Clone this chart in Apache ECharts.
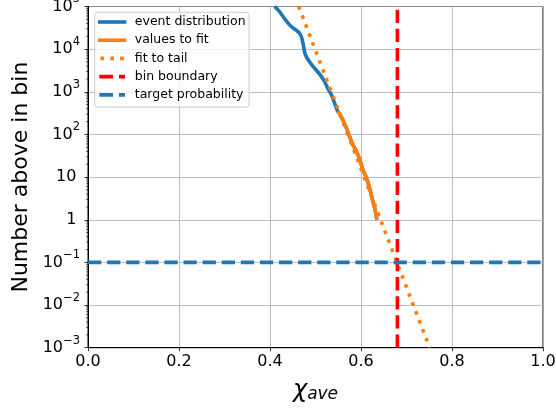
<!DOCTYPE html>
<html>
<head>
<meta charset="utf-8">
<script src="https://cdn.jsdelivr.net/npm/echarts@6/dist/echarts.min.js"></script>
<style>
  html, body { margin: 0; padding: 0; background: #fff; }
  #chart { width: 556px; height: 409px; }
</style>
</head>
<body>
<div id="chart"></div>
<script>
// Number of events above each chi_ave threshold
const eventX = [0.410, 0.421, 0.432, 0.443, 0.451, 0.458, 0.464, 0.469, 0.473, 0.476, 0.480,
                0.486, 0.495, 0.509, 0.520, 0.527, 0.535, 0.542, 0.549, 0.552, 0.560, 0.568,
                0.575, 0.582, 0.590, 0.597, 0.604, 0.612, 0.619, 0.625, 0.630, 0.635];
const eventY = [1.0e5, 7.6e4, 5.2e4, 3.7e4, 3.1e4, 2.75e4, 2.45e4, 1.95e4, 1.3e4, 8.6e3, 6.6e3,
                5.2e3, 3.9e3, 2.6e3, 1.74e3, 1.2e3, 850, 540, 347, 316, 219, 141,
                89, 58, 40, 26, 15, 9.5, 5.5, 3.0, 1.9, 1.0];
// first point of the tail used for the fit
const fitStart = 18;
// exponential fit to the tail: straight in log space
const tailX = [0.463, 0.751];
const tailY = [1e5, 1e-3];
const binBoundary = 0.68;
const targetProbability = 0.1;
const xRange = [0, 1];
const yRange = [1e-3, 1e5];
const legendNames = ['event distribution', 'values to fit', 'fit to tail', 'bin boundary', 'target probability'];

const FONT = 'DejaVu Sans';
const BLUE = '#1f77b4', ORANGE = '#ff7f0e', RED = '#ff0000';
const LW = 3.6;
const DASH = [13.3, 5.8];
const DOT = [3.6, 6.0];

// minor ticks at 2..9 x 10^k, as on a matplotlib log axis
const minorTickValues = [];
for (let e = Math.log10(yRange[0]); e < Math.log10(yRange[1]); e++) {
  for (let m = 2; m <= 9; m++) minorTickValues.push(m * Math.pow(10, e));
}

const chart = echarts.init(document.getElementById('chart'), null, { renderer: 'canvas' });

const pairs = (xs, ys) => xs.map((x, i) => [x, ys[i]]);

chart.setOption({
  animation: false,
  textStyle: { fontFamily: FONT },
  grid: {
    left: 88, right: 13, top: 6.5, bottom: 61.3,
    outerBoundsMode: 'none', containLabel: false,
    show: true, borderColor: '#000', borderWidth: 1, backgroundColor: 'transparent'
  },
  legend: {
    orient: 'vertical', left: 94.7, top: 12.3,
    itemWidth: 28.3, itemHeight: 3.7, itemGap: 4.2,
    padding: [2.7, 3.5, 5.3, 3.3],
    backgroundColor: 'rgba(255,255,255,0.8)', borderColor: '#cccccc', borderWidth: 1, borderRadius: 3,
    itemStyle: { borderWidth: 0 },
    lineStyle: { width: 0 },
    textStyle: { fontFamily: FONT, fontSize: 12.5, color: '#000', lineHeight: 14, padding: [0, 0, 0, 3.5] },
    data: [
      { name: legendNames[0], icon: 'path://M0,0H28.3V3.6H0Z' },
      { name: legendNames[1], icon: 'path://M0,0H28.3V3.6H0Z' },
      { name: legendNames[2], icon: 'path://M0,0H3.6V3.6H0Z M9.6,0H13.2V3.6H9.6Z M19.2,0H22.8V3.6H19.2Z' },
      { name: legendNames[3], icon: 'path://M0,0H13.3V3.6H0Z M19.1,0H25V3.6H19.1Z' },
      { name: legendNames[4], icon: 'path://M0,0H13.3V3.6H0Z M19.1,0H25V3.6H19.1Z' }
    ]
  },
  xAxis: {
    type: 'value', min: xRange[0], max: xRange[1], interval: 0.2,
    axisLine: { show: true, onZero: false, lineStyle: { color: '#000', width: 1 } },
    axisTick: { show: true, length: 3.5, lineStyle: { color: '#000', width: 0.8 } },
    axisLabel: { fontFamily: FONT, fontSize: 16, color: '#000', margin: 6, formatter: v => v.toFixed(1) },
    splitLine: { show: true, lineStyle: { color: '#b0b0b0', width: 0.8 } },
    name: '{c|\u03c7}{sub|ave}', nameLocation: 'middle', nameGap: 31,
    nameTextStyle: {
      rich: {
        c: { fontFamily: FONT, fontSize: 24, fontStyle: 'italic', color: '#000', verticalAlign: 'bottom' },
        sub: { fontFamily: FONT, fontSize: 17, fontStyle: 'italic', color: '#000', verticalAlign: 'bottom' }
      }
    }
  },
  yAxis: {
    type: 'log', logBase: 10, min: yRange[0], max: yRange[1], interval: 1,
    axisLine: { show: true, onZero: false, lineStyle: { color: '#000', width: 1 } },
    axisTick: { show: true, length: 3.5, lineStyle: { color: '#000', width: 0.8 } },
    axisLabel: {
      fontFamily: FONT, color: '#000', margin: 8,
      formatter: v => {
        const e = Math.round(Math.log10(v));
        if (e === 0) return '{b|1}{s| }';
        if (e === 1) return '{b|10}{s| }';
        return '{b|10}{s|' + (e < 0 ? '\u2212' + (-e) : e) + '}';
      },
      rich: {
        b: { fontFamily: FONT, fontSize: 16, color: '#000', lineHeight: 26, verticalAlign: 'middle' },
        s: { fontFamily: FONT, fontSize: 11.5, color: '#000', lineHeight: 26, verticalAlign: 'top' }
      }
    },
    splitLine: { show: true, lineStyle: { color: '#b0b0b0', width: 0.8 } },
    name: 'Number above in bin', nameLocation: 'middle', nameRotate: 90, nameGap: 50,
    nameTextStyle: { fontFamily: FONT, fontSize: 22, color: '#000' }
  },
  series: [
    {
      name: legendNames[0], type: 'line', data: pairs(eventX, eventY),
      showSymbol: false, symbol: 'none', color: BLUE, smooth: 0.2,
      lineStyle: { color: BLUE, width: LW }
    },
    {
      name: legendNames[1], type: 'line', data: pairs(eventX.slice(fitStart), eventY.slice(fitStart)),
      showSymbol: false, symbol: 'none', color: ORANGE, smooth: 0.2,
      lineStyle: { color: ORANGE, width: LW }
    },
    {
      name: legendNames[2], type: 'line', data: pairs(tailX, tailY),
      showSymbol: false, symbol: 'none', color: ORANGE,
      lineStyle: { color: ORANGE, width: LW, type: DOT, cap: 'butt' }
    },
    {
      name: legendNames[3], type: 'line', data: [[binBoundary, yRange[0]], [binBoundary, yRange[1]]],
      showSymbol: false, symbol: 'none', color: RED,
      lineStyle: { color: RED, width: LW, type: DASH, cap: 'butt' }
    },
    {
      name: legendNames[4], type: 'line', data: [[xRange[0], targetProbability], [xRange[1], targetProbability]],
      showSymbol: false, symbol: 'none', color: BLUE,
      lineStyle: { color: BLUE, width: LW, type: DASH, cap: 'butt' }
    },
    {
      name: 'minor ticks', type: 'custom', coordinateSystem: 'cartesian2d', clip: false, silent: true,
      data: minorTickValues.map(v => [xRange[0], v]),
      encode: { x: 0, y: 1 },
      renderItem: (params, api) => {
        const p = api.coord([api.value(0), api.value(1)]);
        return {
          type: 'line',
          shape: { x1: p[0] - 2, y1: p[1], x2: p[0], y2: p[1] },
          style: { stroke: '#000', lineWidth: 0.6 }
        };
      }
    }
  ]
});
</script>
</body>
</html>
